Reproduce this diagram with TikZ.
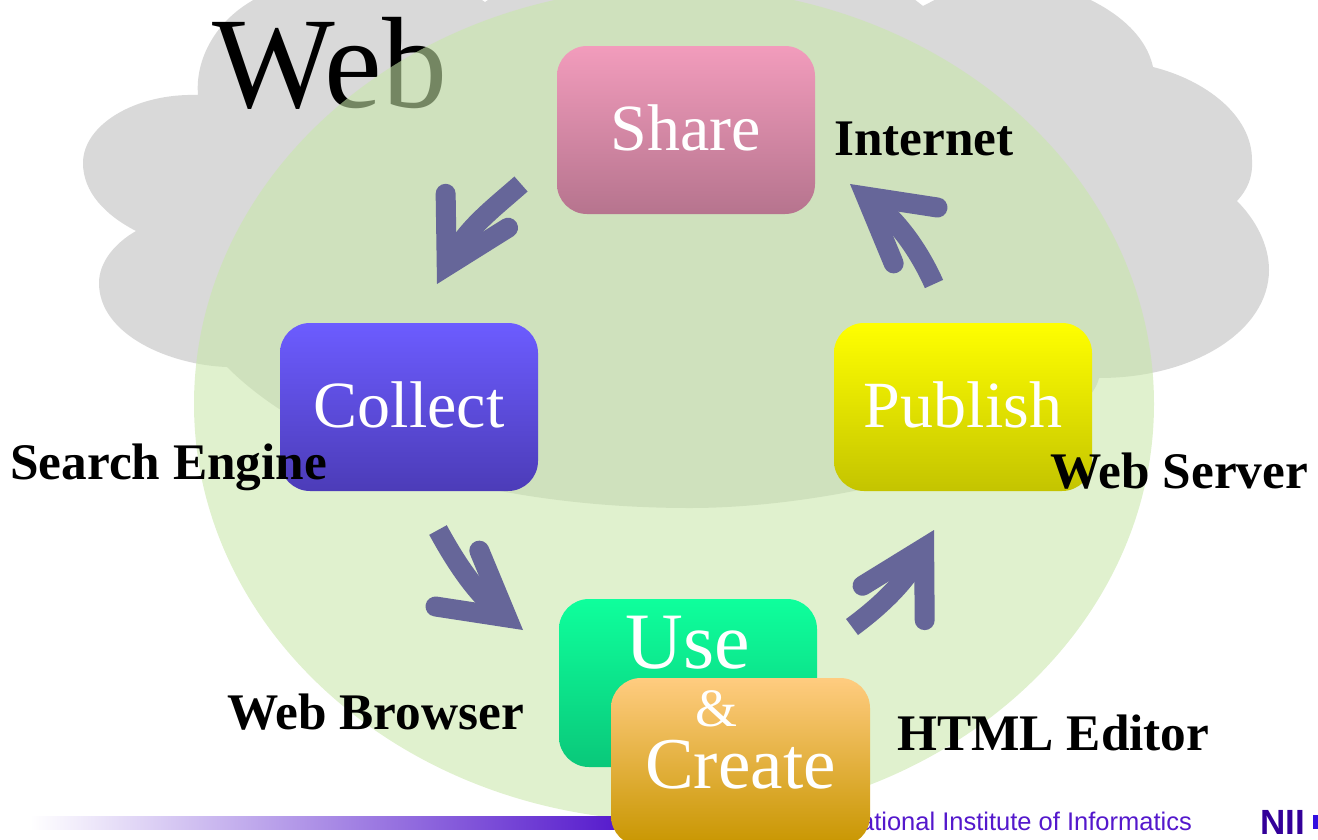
\documentclass[tikz,border=0pt]{standalone}
\usepackage{fontspec}
\setmainfont{Liberation Serif}
\newfontfamily\arialfont{Liberation Sans}
\usetikzlibrary{arrows.meta,shapes.geometric}
\definecolor{cloudgray}{RGB}{217,217,217}
\definecolor{ballgreen}{RGB}{201,231,170}
\definecolor{flowblue}{RGB}{102,102,153}
\definecolor{niipurple}{RGB}{84,24,204}
\definecolor{niidark}{RGB}{51,0,153}
\begin{document}
\begin{tikzpicture}[
    x = 1pt, y = -1pt,
    stagebox/.style={ rectangle, rounded corners = 30pt, inner sep = 0pt,
      minimum width = 258pt, text = white,
      text height = #1, text depth = 168pt-#1,
      font = \fontsize{66}{66}\selectfont },
    toolname/.style={ anchor = base west, inner sep = 0pt,
      font = \fontsize{51.3}{51.3}\selectfont\bfseries },
    flow/.style={ draw = flowblue, line width = 20pt,
      -{Straight Barb[length=63pt,width=71pt,line width=20pt,line cap=round,line join=miter,quick]} }
    ]
  \useasboundingbox (0,0) rectangle (1318,839);
  % cloud and ball behind the stages
  \fill[cloudgray] (198,95) .. controls (195,60) and (215,20) .. (257,-2)
    -- (470,-8) -- (485,2) -- (500,-8) -- (905,-8) -- (923,6) -- (950,-8) -- (1072,-8)
    .. controls (1107,5) and (1145,30) .. (1153,67)
    .. controls (1205,80) and (1252,115) .. (1252,160)
    .. controls (1253,178) and (1247,190) .. (1237,201)
    .. controls (1256,220) and (1269,245) .. (1269,270)
    .. controls (1269,330) and (1195,378) .. (1099,378)
    .. controls (1085,440) and (860,508) .. (690,508)
    .. controls (500,508) and (320,460) .. (227,367)
    .. controls (170,365) and (99,335) .. (99,283)
    .. controls (99,262) and (115,243) .. (136,231)
    .. controls (105,215) and (83,192) .. (83,163)
    .. controls (83,125) and (135,93) .. (198,95) -- cycle;
  \node (web) [anchor = base west, inner sep = 0pt, font = \fontsize{130}{130}\selectfont] at (212,107) {Web};
  \fill[ballgreen, opacity = 0.58] (674,404) ellipse (480 and 417);
  % footer
  \shade[left color = white, right color = niipurple] (30,816) rectangle (625,829);
  \node (institute) [anchor = base east, inner sep = 0pt, text = niipurple,
    font = \fontsize{25.5}{25.5}\selectfont\arialfont] at (1192,830) {National Institute of Informatics};
  \node (nii) [anchor = base west, inner sep = 0pt, text = niidark,
    font = \fontsize{35}{35}\selectfont\arialfont\bfseries] at (1260,834) {NII};
  \fill[niipurple!60!blue] (1313,815) rectangle (1318,829);
  % stages
  \node (share) [stagebox = 104pt, top color = {rgb,255:red,242;green,156;blue,188},
    bottom color = {rgb,255:red,182;green,116;blue,142}] at (686,130) {Share};
  \node (collect) [stagebox = 104pt, top color = {rgb,255:red,108;green,92;blue,255},
    bottom color = {rgb,255:red,76;green,60;blue,184}] at (409,407) {Collect};
  \node (publish) [stagebox = 104pt, top color = yellow,
    bottom color = {rgb,255:red,196;green,196;blue,0}] at (963,407) {Publish};
  \node (use) [stagebox = 69pt, top color = {rgb,255:red,14;green,255;blue,156},
    bottom color = {rgb,255:red,10;green,200;blue,122},
    font = \fontsize{80}{80}\selectfont] at (688,683) {Use};
  \node (create) [stagebox = 110pt, minimum width = 259pt, top color = {rgb,255:red,255;green,204;blue,128},
    middle color = {rgb,255:red,240;green,176;blue,68},
    bottom color = {rgb,255:red,200;green,150;blue,0},
    font = \fontsize{73}{73}\selectfont] at (740.5,762) {Create};
  \node (amp) [inner sep = 0pt, anchor = base, text = white, font = \fontsize{54}{54}\selectfont] at (716,726) {\&};
  % what each stage is done with
  \node (internet) [toolname] at (834,155) {Internet};
  \node (engine) [toolname] at (10,479) {Search Engine};
  \node (server) [toolname] at (1050,488) {Web Server};
  \node (browser) [toolname] at (227,729) {Web Browser};
  \node (editor) [toolname] at (897,750) {HTML Editor};
  % flow round the stages
  \coordinate (shareout) at (521,184);
  \coordinate (collectin) at (437,284);
  \coordinate (collectout) at (438,530);
  \coordinate (usein) at (523,630);
  \coordinate (useout) at (852,627);
  \coordinate (publishin) at (934,530);
  \coordinate (publishout) at (934,284);
  \coordinate (sharein) at (850,184);
  \draw[flow] (shareout) .. controls (495,207) and (468,227) .. (collectin);
  \draw[flow] (collectout) .. controls (450,552) and (472,590) .. (usein);
  \draw[flow] (useout) .. controls (875,610) and (903,586) .. (publishin);
  \draw[flow] (publishout) .. controls (921,255) and (901,224) .. (sharein);
\end{tikzpicture}
\end{document}
